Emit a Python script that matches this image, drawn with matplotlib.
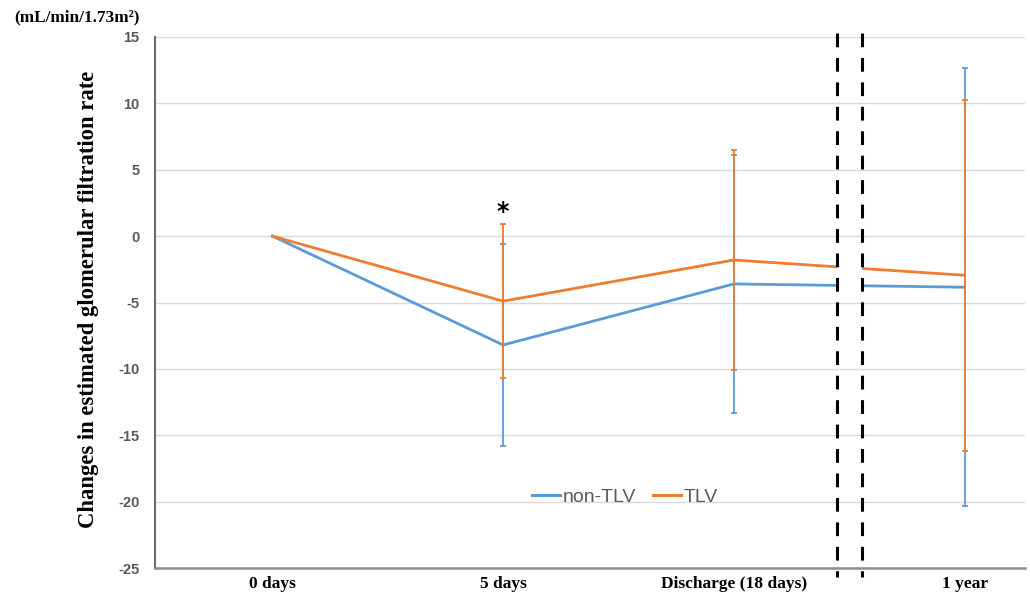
import numpy as np
import matplotlib
matplotlib.use("Agg")
import matplotlib.pyplot as plt
from matplotlib.patches import Rectangle

plt.rcParams["axes.unicode_minus"] = False

categories = ["0 days", "5 days", "Discharge (18 days)", "1 year"]
non_tlv_mean = [0, -8.2, -3.6, -3.85]
non_tlv_sd = [0, 7.6, 9.7, 16.5]
tlv_mean = [0, -4.9, -1.8, -2.95]
tlv_sd = [0, 5.8, 8.3, 13.2]

blue = "#5B9BD5"
orange = "#ED7D31"
grey_txt = "#595959"

# position of the axis break (between discharge and 1 year)
brk_left, brk_right = 2.447, 2.555

fig = plt.figure(figsize=(10.30, 5.99), dpi=100)
ax = fig.add_axes([155 / 1030, 1 - 568 / 599, 870 / 1030, 531 / 599])

x = np.arange(len(categories))
xmin, xmax = -0.509, 3.262
ymin, ymax = -25, 15

for mean, sd, col in [(non_tlv_mean, non_tlv_sd, blue), (tlv_mean, tlv_sd, orange)]:
    ax.errorbar(x[1:], mean[1:], yerr=sd[1:], fmt="none", ecolor=col,
                elinewidth=1.3, capsize=2.5, capthick=1.3, zorder=3)
    # line drawn twice, clipped on each side of the break
    for x0, x1 in [(xmin, brk_left), (brk_right, xmax)]:
        ln, = ax.plot(x, mean, color=col, lw=2, zorder=3)
        ln.set_clip_path(Rectangle((x0, ymin), x1 - x0, ymax - ymin, transform=ax.transData))

# legend handles
h1, = ax.plot([], [], color=blue, lw=2.2, label="non-TLV")
h2, = ax.plot([], [], color=orange, lw=2.2, label="TLV")

# break markers
for xb in [brk_left, brk_right]:
    ln, = ax.plot([xb, xb], [15.3, -25.7], color="black", lw=2.2, clip_on=False, zorder=4)
    ln.set_dashes([4.5, 3.5])

ax.set_xlim(xmin, xmax)
ax.set_ylim(ymin, ymax)
ax.set_yticks(np.arange(-25, 16, 5))
ax.set_xticks(x)
ax.set_xticklabels(categories, fontfamily="Liberation Serif", fontweight="bold", fontsize=12.5)
for t in ax.get_yticklabels():
    t.set_fontfamily("Liberation Sans")
    t.set_fontweight("bold")
    t.set_fontsize(10.5)
    t.set_color(grey_txt)
ax.tick_params(axis="y", length=0, pad=11)
ax.tick_params(axis="x", length=0, pad=6)

ax.grid(axis="y", color="#d9d9d9", lw=1)
ax.set_axisbelow(True)
for s in ["top", "right"]:
    ax.spines[s].set_visible(False)
ax.spines["left"].set_color("#6b6b6b")
ax.spines["left"].set_linewidth(1.5)
ax.spines["bottom"].set_color("#8c8c8c")
ax.spines["bottom"].set_linewidth(1.8)

ax.text(1, 1.8, "*", ha="center", va="center", fontsize=17, fontweight="bold",
        fontfamily="DejaVu Sans")

ax.legend(handles=[h1, h2], ncol=2, frameon=False, loc="center",
          bbox_to_anchor=(625 / 1030, 1 - 497 / 599), bbox_transform=fig.transFigure,
          prop={"family": "Liberation Sans", "size": 14}, labelcolor=grey_txt,
          handlelength=1.4, handletextpad=0.15, columnspacing=0.9)

fig.text(89 / 1030, 0.5, "Changes in estimated glomerular filtration rate", rotation=90,
         ha="center", va="center", fontsize=16.3, fontweight="bold", fontfamily="Liberation Serif")
fig.text(77 / 1030, 1 - 17 / 599, "(mL/min/1.73m²)", ha="center", va="center",
         fontsize=12.4, fontweight="bold", fontfamily="Liberation Serif")

fig.savefig("out.png", dpi=100)
